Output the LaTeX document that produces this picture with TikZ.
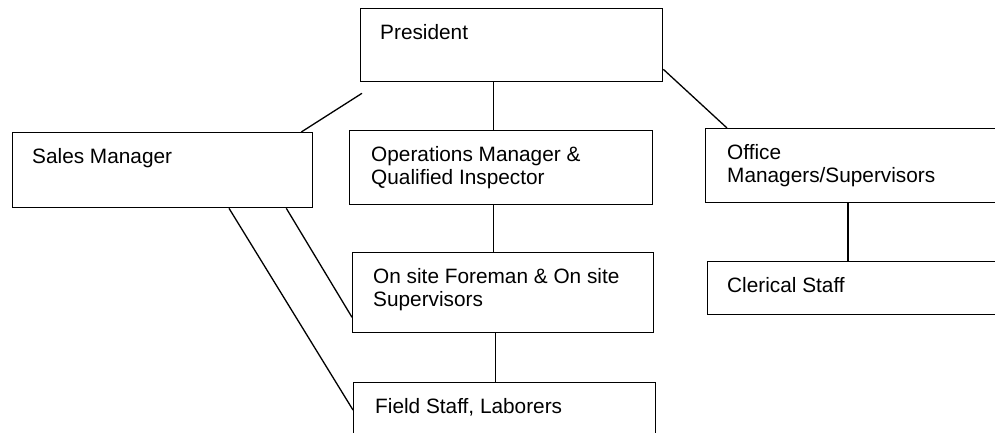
\documentclass[tikz,border=0pt]{standalone}
\usepackage{fontspec}
\setmainfont{Liberation Sans}
\usetikzlibrary{positioning}
\newcommand\orgfont{\fontsize{20.8pt}{23.5pt}\selectfont}

\begin{document}
\begin{tikzpicture}[x=1pt, y=-1pt, font=\orgfont,
    unit/.style={draw, line width=1.3pt, anchor=north west, inner sep=0pt},
    caption/.style={anchor=north west, align=left, inner xsep=20pt, inner ysep=16pt},
    link/.style={line width=1.3pt}]
  \path[use as bounding box, clip] (0,0) rectangle (995,433);

  % boxes
  \node[unit, minimum width=302pt, minimum height=73pt,
    label={[caption]north west:President}] (pres) at (360,8) {};
  \node[unit, minimum width=300pt, minimum height=75pt,
    label={[caption]north west:Sales Manager}] (sales) at (12,132) {};
  \node[unit, minimum width=303pt, minimum height=74pt,
    label={[caption, inner xsep=22pt]north west:{Operations Manager \&\\Qualified Inspector}}] (ops) at (349,130) {};
  \node[unit, minimum width=320pt, minimum height=74pt,
    label={[caption, inner xsep=22pt]north west:{Office\\Managers/Supervisors}}] (office) at (705,128) {};
  \node[unit, minimum width=301pt, minimum height=80pt,
    label={[caption, inner xsep=21pt]north west:{On site Foreman \& On site\\Supervisors}}] (fore) at (352,252) {};
  \node[unit, minimum width=320pt, minimum height=53pt,
    label={[caption]north west:Clerical Staff}] (cler) at (707,261) {};
  \node[unit, minimum width=302pt, minimum height=80pt,
    label={[caption, inner xsep=22pt]north west:{Field Staff, Laborers}}] (field) at (353,382) {};

  % connectors
  \draw[link] ([shift={(2pt,-11pt)}]pres.south west) -- ([xshift=-12pt]sales.north east);
  \draw[link] ([xshift=-18pt]pres.south) -- ([xshift=-18pt]pres.south |- ops.north);
  \draw[link] ([yshift=13pt]pres.south east) -- ([xshift=22pt]office.north west);
  \draw[link] ([xshift=-7.5pt]ops.south) -- ([xshift=-7.5pt]ops.south |- fore.north);
  \draw[link] ([xshift=-7.5pt]fore.south) -- ([xshift=-7.5pt]fore.south |- field.north);
  \draw[link] ([xshift=143pt]office.south west) -- ([xshift=143pt]office.south west |- cler.north);
  \draw[link] ([xshift=-27pt]sales.south east) -- ([yshift=16pt]fore.south west);
  \draw[link] ([xshift=217pt]sales.south west) -- ([yshift=-28pt]field.north west);
\end{tikzpicture}
\end{document}
